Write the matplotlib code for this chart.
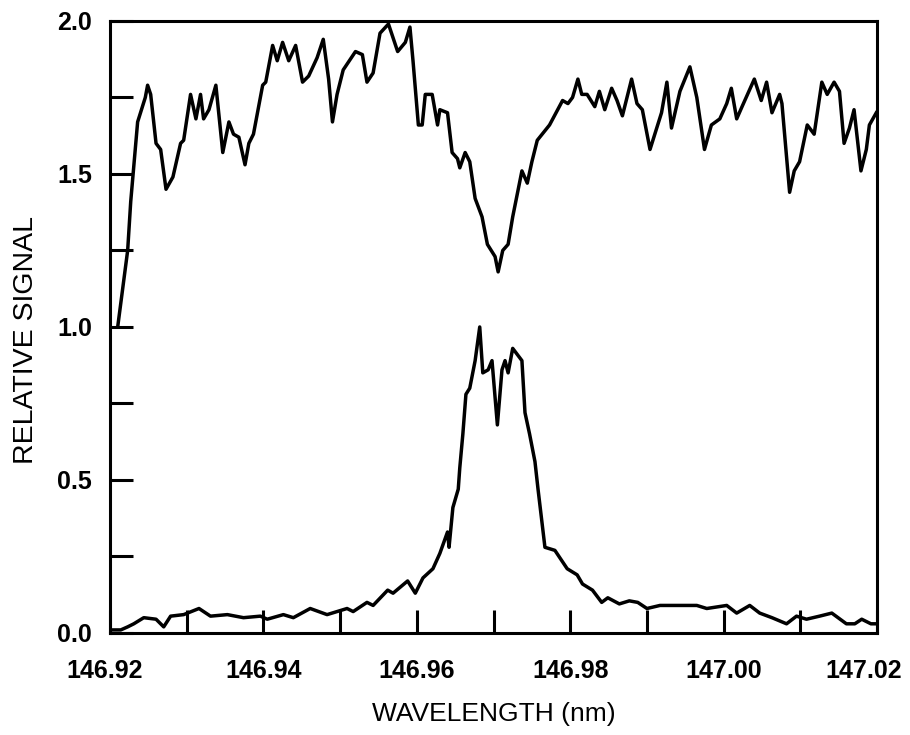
import matplotlib
matplotlib.use("Agg")
import matplotlib.pyplot as plt
from matplotlib.ticker import MultipleLocator, FormatStrFormatter, FuncFormatter

# upper trace (absorption dip)
upper_wl = [146.9210, 146.9223, 146.9227, 146.9236, 146.9246, 146.9249, 146.9253, 146.9260,
            146.9266, 146.9273, 146.9282, 146.9292, 146.9296, 146.9305, 146.9312, 146.9318,
            146.9322, 146.9329, 146.9338, 146.9347, 146.9355, 146.9361, 146.9368, 146.9376,
            146.9381, 146.9387, 146.9399, 146.9403, 146.9412, 146.9418, 146.9425, 146.9433,
            146.9442, 146.9451, 146.9459, 146.9470, 146.9478, 146.9485, 146.9490, 146.9496,
            146.9504, 146.9520, 146.9529, 146.9535, 146.9543, 146.9552, 146.9563, 146.9575,
            146.9585, 146.9591, 146.9595, 146.9602, 146.9607, 146.9611, 146.9620, 146.9627,
            146.9630, 146.9640, 146.9646, 146.9653, 146.9656, 146.9663, 146.9669, 146.9676,
            146.9685, 146.9692, 146.9702, 146.9706, 146.9712, 146.9719, 146.9725, 146.9737,
            146.9744, 146.9750, 146.9757, 146.9773, 146.9790, 146.9797, 146.9803, 146.9810,
            146.9815, 146.9822, 146.9832, 146.9838, 146.9845, 146.9854, 146.9861, 146.9868,
            146.9880, 146.9887, 146.9894, 146.9904, 146.9919, 146.9926, 146.9932, 146.9943,
            146.9956, 146.9965, 146.9975, 146.9984, 146.9995, 147.0004, 147.0010, 147.0017,
            147.0024, 147.0040, 147.0049, 147.0056, 147.0063, 147.0073, 147.0076, 147.0086,
            147.0092, 147.0099, 147.0109, 147.0118, 147.0128, 147.0135, 147.0144, 147.0151,
            147.0157, 147.0164, 147.0170, 147.0179, 147.0186, 147.0190, 147.0199]
upper_sig = [1.00, 1.25, 1.41, 1.67, 1.75, 1.79, 1.76, 1.60,
             1.58, 1.45, 1.49, 1.60, 1.61, 1.76, 1.68, 1.76,
             1.68, 1.71, 1.79, 1.57, 1.67, 1.63, 1.62, 1.53,
             1.60, 1.63, 1.79, 1.80, 1.92, 1.87, 1.93, 1.87,
             1.92, 1.80, 1.82, 1.88, 1.94, 1.81, 1.67, 1.76,
             1.84, 1.90, 1.89, 1.80, 1.83, 1.96, 1.99, 1.90,
             1.93, 1.98, 1.87, 1.66, 1.66, 1.76, 1.76, 1.66,
             1.71, 1.70, 1.57, 1.55, 1.52, 1.57, 1.54, 1.42,
             1.36, 1.27, 1.23, 1.18, 1.25, 1.27, 1.36, 1.51,
             1.47, 1.54, 1.61, 1.66, 1.74, 1.73, 1.75, 1.81,
             1.76, 1.76, 1.72, 1.77, 1.71, 1.78, 1.74, 1.69,
             1.81, 1.73, 1.71, 1.58, 1.70, 1.80, 1.65, 1.77,
             1.85, 1.75, 1.58, 1.66, 1.68, 1.73, 1.78, 1.68,
             1.72, 1.81, 1.74, 1.80, 1.70, 1.76, 1.73, 1.44,
             1.51, 1.54, 1.66, 1.63, 1.80, 1.76, 1.80, 1.77,
             1.60, 1.65, 1.71, 1.51, 1.58, 1.66, 1.70]

# lower trace (emission line)
lower_wl = [146.9201, 146.9214, 146.9223, 146.9231, 146.9244, 146.9260, 146.9270, 146.9279,
            146.9296, 146.9316, 146.9331, 146.9353, 146.9374, 146.9396, 146.9405, 146.9426,
            146.9439, 146.9461, 146.9483, 146.9496, 146.9509, 146.9517, 146.9535, 146.9543,
            146.9562, 146.9569, 146.9588, 146.9598, 146.9608, 146.9621, 146.9630, 146.9640,
            146.9642, 146.9647, 146.9654, 146.9656, 146.9660, 146.9664, 146.9669, 146.9676,
            146.9682, 146.9686, 146.9693, 146.9698, 146.9705, 146.9711, 146.9715, 146.9719,
            146.9725, 146.9731, 146.9737, 146.9741, 146.9747, 146.9754, 146.9758, 146.9767,
            146.9780, 146.9796, 146.9809, 146.9816, 146.9829, 146.9841, 146.9849, 146.9864,
            146.9877, 146.9888, 146.9900, 146.9917, 146.9939, 146.9965, 146.9978, 147.0004,
            147.0017, 147.0034, 147.0047, 147.0063, 147.0082, 147.0095, 147.0108, 147.0125,
            147.0141, 147.0160, 147.0171, 147.0180, 147.0192, 147.0199]
lower_sig = [0.01, 0.01, 0.02, 0.03, 0.05, 0.045, 0.02, 0.055,
             0.06, 0.08, 0.055, 0.06, 0.05, 0.055, 0.045, 0.06,
             0.05, 0.08, 0.06, 0.07, 0.08, 0.07, 0.10, 0.09,
             0.14, 0.13, 0.17, 0.13, 0.18, 0.21, 0.26, 0.33,
             0.28, 0.41, 0.47, 0.54, 0.65, 0.78, 0.80, 0.89,
             1.00, 0.85, 0.86, 0.89, 0.68, 0.86, 0.89, 0.85,
             0.93, 0.91, 0.89, 0.72, 0.65, 0.56, 0.47, 0.28,
             0.27, 0.21, 0.19, 0.16, 0.14, 0.10, 0.115, 0.095,
             0.105, 0.10, 0.08, 0.09, 0.09, 0.09, 0.08, 0.09,
             0.065, 0.09, 0.065, 0.05, 0.03, 0.055, 0.045, 0.055,
             0.065, 0.03, 0.03, 0.045, 0.03, 0.03]

plt.rcParams['font.family'] = ['Liberation Sans', 'DejaVu Sans']

fig = plt.figure(figsize=(9.1, 7.35), dpi=100)
ax = fig.add_axes([0.1209, 0.1388, 0.8429, 0.8327])

ax.plot(upper_wl, upper_sig, color='black', lw=2.5)
ax.plot(lower_wl, lower_sig, color='black', lw=2.5)

ax.set_xlim(146.92, 147.02)
ax.set_ylim(0, 2.0)

XMIN, XMAX = 146.92, 147.02
TICK_PAD = 19  # points below the axis


def wl_fmt(x, pos):
    # end labels are drawn separately below, nudged left like the original
    if abs(x - XMIN) < 1e-6 or abs(x - XMAX) < 1e-6:
        return ''
    return '%.2f' % x


ax.xaxis.set_major_locator(MultipleLocator(0.02))
ax.xaxis.set_minor_locator(MultipleLocator(0.01))
ax.xaxis.set_major_formatter(FuncFormatter(wl_fmt))
ax.yaxis.set_major_locator(MultipleLocator(0.5))
ax.yaxis.set_minor_locator(MultipleLocator(0.25))
ax.yaxis.set_major_formatter(FormatStrFormatter('%.1f'))

ax.tick_params(which='both', direction='in', length=16.5, width=2.2,
               top=False, right=False)
ax.tick_params(axis='x', which='major', labelsize=18, pad=TICK_PAD)
ax.tick_params(axis='y', which='major', labelsize=18, pad=13)
for lab in ax.get_xticklabels() + ax.get_yticklabels():
    lab.set_fontweight('bold')

for x, dx in ((XMIN, -3.6), (XMAX, -9.4)):
    ax.annotate('%.2f' % x, xy=(x, 0), xycoords=('data', 'axes fraction'),
                xytext=(dx, -TICK_PAD), textcoords='offset points',
                ha='center', va='top', fontsize=18, fontweight='bold',
                annotation_clip=False)

for sp in ax.spines.values():
    sp.set_linewidth(2.2)

ax.set_xlabel('WAVELENGTH (nm)', fontsize=19)
ax.set_ylabel('RELATIVE SIGNAL', fontsize=20.5)
ax.xaxis.set_label_coords(0.5, -0.112)
ax.yaxis.set_label_coords(-0.0926, 0.479)

fig.savefig('out.png', dpi=100)
